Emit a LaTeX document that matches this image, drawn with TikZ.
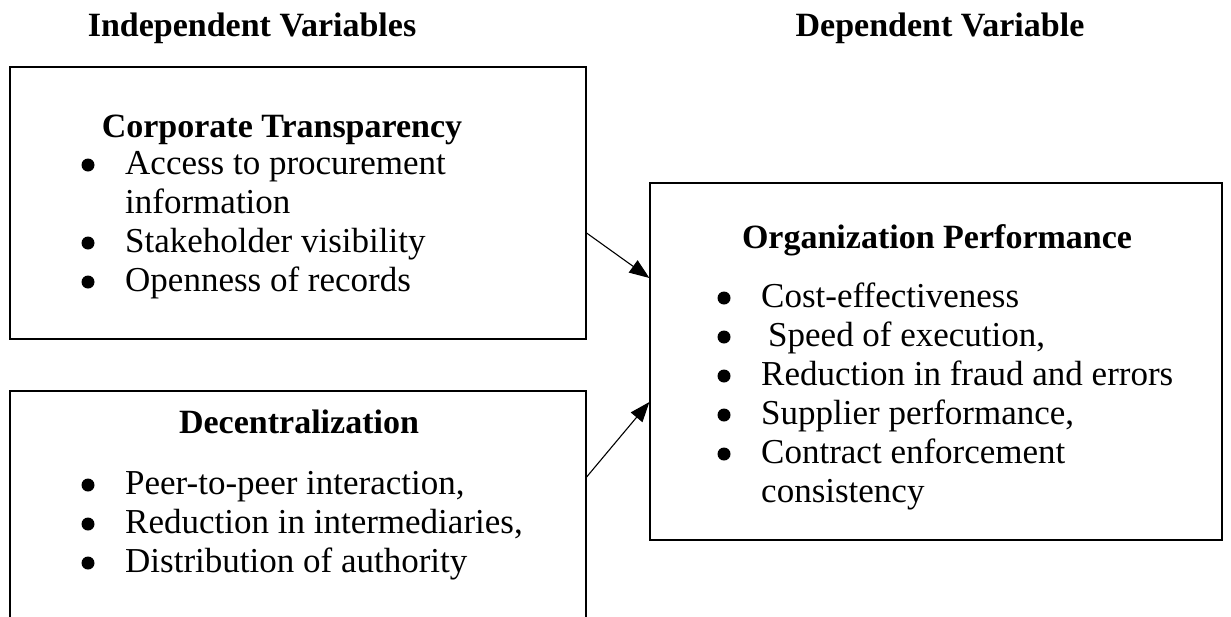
\documentclass[tikz,border=0pt]{standalone}
\usepackage{fontspec}
\setmainfont{Liberation Serif}
\usetikzlibrary{positioning, arrows.meta}

\begin{document}
\begin{tikzpicture}[
    x=1pt, y=-1pt,
    box/.style={draw, line width=1.2pt, minimum width=576pt, inner sep=0pt},
    heading/.style={font=\fontsize{34}{40}\selectfont\bfseries},
    items/.style={font=\fontsize{35}{39}\selectfont, align=left, inner sep=0pt, anchor=base west},
    link/.style={draw, line width=1.1pt, -{Triangle[length=20pt, width=15pt]}}
]
\useasboundingbox (0,0) rectangle (1231,616);

% column headings
\node[heading] (indep) at (252,28) {Independent Variables};
\node[heading] (dep) at (940,28) {Dependent Variable};

% frames
\node[box, minimum height=272pt] (ct) at (298,203) {};
\node[box, minimum height=260pt] (dc) at (298,521) {};
\node[box, minimum width=572pt, minimum height=357pt] (op) at (936,361.5) {};

% box titles
\node[heading] (cttitle) at (282,130) {Corporate Transparency};
\node[heading] (dctitle) at (299,422) {Decentralization};
\node[heading] (optitle) at (937,240) {Organization Performance};

% bullet lists
\node[items] (ctlist) at (125,174) {\begin{tabular}[t]{@{}l@{}}
Access to procurement\\
information\\
Stakeholder visibility\\
Openness of records
\end{tabular}};
\node[items] (dclist) at (125,494) {\begin{tabular}[t]{@{}l@{}}
Peer-to-peer interaction,\\
Reduction in intermediaries,\\
Distribution of authority
\end{tabular}};
\node[items] (oplist) at (761,307) {\begin{tabular}[t]{@{}l@{}}
Cost-effectiveness\\
\hspace{7pt}Speed of execution,\\
Reduction in fraud and errors\\
Supplier performance,\\
Contract enforcement\\
consistency
\end{tabular}};

% bullet dots
\foreach \by in {165,243,282,485,524,563}
  \fill (88,\by) circle (6.5pt);
\foreach \by in {298,337,376,415,454}
  \fill (724,\by) circle (6.5pt);

% links into the dependent variable
\draw[link] ([yshift=-30pt]ct.east) -- ([yshift=83.5pt]op.west);
\draw[link] ([yshift=44pt]dc.east) -- ([yshift=-40.5pt]op.west);
\end{tikzpicture}
\end{document}
